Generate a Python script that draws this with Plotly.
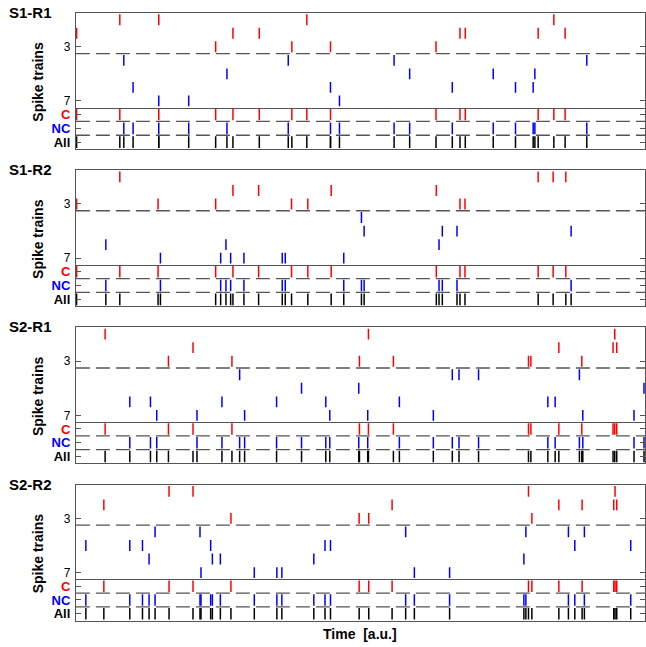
import plotly.graph_objects as go

W, H = 646, 647
T_MAX = 570  # time axis extent [a.u.]

panel_titles = ["S1-R1", "S1-R2", "S2-R1", "S2-R2"]

# Spike times per train (trains 1-3 correlated "C", trains 4-7 non-correlated "NC")
s1r1_trains = [
    [44, 83, 231.3, 478.7],
    [0.7, 157.3, 183.7, 384.7, 390, 463, 490],
    [140, 216.3, 255, 360.7],
    [48, 212.7, 318.7, 511.7],
    [151.3, 334.3, 418, 459.7],
    [57.3, 255, 377, 440.3, 458],
    [83, 113, 264],
]
s1r2_trains = [
    [44, 463, 478, 490.7],
    [157.3, 183, 255.7, 361],
    [0.7, 82.3, 140, 216, 232.3, 384.7, 389.7],
    [286],
    [288.7, 367, 381.7, 496],
    [30, 150.3, 363.7],
    [84.7, 145, 155, 168.3, 206.7, 209.7, 268.3],
]
s2r1_trains = [
    [29.3, 293, 539.7],
    [117.3, 483.7, 538, 541.7],
    [92.7, 156.3, 284, 318, 453.3, 455.7, 506.7],
    [164, 377, 383.7, 403.3, 504.3],
    [226, 283.3, 569],
    [54, 74.7, 146.3, 201, 250.3, 324, 472.7, 480],
    [81, 121.3, 169, 254.3, 292.3, 358, 507.7, 559],
]
s2r2_trains = [
    [93.3, 117.3, 453.3, 540],
    [28, 316.7, 483.7, 507, 538.7, 541.7],
    [155.3, 283.7, 293.3, 456.7],
    [79.3, 124.3, 330.3, 450.7, 493.3, 509.3],
    [10, 54, 66.7, 135, 249.5, 255, 499.7, 555.7],
    [73.3, 136.7, 144.7, 238.3, 448.7],
    [125.3, 178.7, 201.3, 206.3, 339, 374.3],
]
panels = [s1r1_trains, s1r2_trains, s2r1_trains, s2r2_trains]

n_corr = 3
upper_ticks = [3, 7]
lower_labels = ["C", "NC", "All"]
RED, BLUE, BLACK = "#ff0000", "#0000ff", "#000000"
AX = "#555555"
FONT = "Liberation Sans, Arial, Helvetica, sans-serif"


def yp(px):
    return 1 - px / H


def spikes(times, row, half=0.4):
    xs, ys = [], []
    for t in times:
        xs += [t, t, None]
        ys += [row - half, row + half, None]
    return xs, ys


fig = go.Figure()
layout = {}
shapes = []
annotations = []
x_dom = [76 / W, 1.0]

for k, trains in enumerate(panels):
    top = 12 + 157.7 * k
    mid = top + 95
    bot = top + 136.5
    iu, il = 2 * k + 1, 2 * k + 2
    xu = "x" if iu == 1 else f"x{iu}"
    yu = "y" if iu == 1 else f"y{iu}"
    xl, yl = f"x{il}", f"y{il}"
    kxu = "xaxis" if iu == 1 else f"xaxis{iu}"
    kyu = "yaxis" if iu == 1 else f"yaxis{iu}"
    kxl, kyl = f"xaxis{il}", f"yaxis{il}"

    # individual trains
    for r, times in enumerate(trains, start=1):
        xs, ys = spikes(times, r)
        fig.add_trace(go.Scatter(x=xs, y=ys, mode="lines", xaxis=xu, yaxis=yu,
                                 line=dict(color=RED if r <= n_corr else BLUE, width=1.5),
                                 hoverinfo="skip", showlegend=False))
    # pooled trains
    c_all = sorted(t for tr in trains[:n_corr] for t in tr)
    nc_all = sorted(t for tr in trains[n_corr:] for t in tr)
    all_all = sorted(c_all + nc_all)
    for r, (times, col) in enumerate([(c_all, RED), (nc_all, BLUE), (all_all, BLACK)], start=1):
        xs, ys = spikes(times, r, 0.42)
        fig.add_trace(go.Scatter(x=xs, y=ys, mode="lines", xaxis=xl, yaxis=yl,
                                 line=dict(color=col, width=1.5),
                                 hoverinfo="skip", showlegend=False))

    xcommon = dict(domain=x_dom, range=[0, T_MAX], showline=True,
                   linecolor=AX, linewidth=1, showticklabels=False, ticks="",
                   showgrid=False, zeroline=False)
    layout[kxu] = dict(xcommon, anchor=yu, mirror=True)
    layout[kxl] = dict(xcommon, anchor=yl, mirror=False)
    ycommon = dict(showline=True, mirror="ticks", linecolor=AX, linewidth=1,
                   ticks="inside", ticklen=5, tickcolor=AX, showgrid=False,
                   zeroline=False, ticklabelstandoff=2)
    layout[kyu] = dict(ycommon, anchor=xu, domain=[yp(mid), yp(top)],
                       range=[7.5, 0.5], tickvals=upper_ticks,
                       ticktext=[str(v) for v in upper_ticks],
                       tickfont=dict(size=12, color="black", family=FONT))
    layout[kyl] = dict(ycommon, anchor=xl, domain=[yp(bot), yp(mid)],
                       range=[3.5, 0.5], tickvals=[1, 2, 3],
                       ticktext=[f"<b><span style='color:{c}'>{lab}</span></b>"
                                 for lab, c in zip(lower_labels, [RED, BLUE, BLACK])],
                       tickfont=dict(size=13, color="black", family=FONT))

    dash = dict(color=AX, width=1.3, dash="14px,6px")
    shapes.append(dict(type="line", xref=xu, yref=yu, x0=0, x1=T_MAX, y0=n_corr + 0.5,
                       y1=n_corr + 0.5, line=dash, layer="below"))
    for yv in (1.5, 2.5):
        shapes.append(dict(type="line", xref=xl, yref=yl, x0=0, x1=T_MAX, y0=yv, y1=yv,
                           line=dash, layer="below"))

    annotations.append(dict(text=f"<b>{panel_titles[k]}</b>", xref="paper", yref="paper",
                            x=7 / W, y=yp(top - 0.5), xanchor="left", yanchor="middle",
                            showarrow=False, font=dict(size=15, color="black", family=FONT)))
    annotations.append(dict(text="<b>Spike trains</b>", xref="paper", yref="paper",
                            x=38 / W, y=yp(top + 69), xanchor="center", yanchor="middle",
                            textangle=-90, showarrow=False,
                            font=dict(size=14, color="black", family=FONT)))

annotations.append(dict(text="<b>Time\u00a0\u00a0[a.u.]</b>", xref="paper", yref="paper",
                        x=361 / W, y=yp(635), xanchor="center", yanchor="middle",
                        showarrow=False, font=dict(size=14, color="black", family=FONT)))

fig.update_layout(width=W, height=H, margin=dict(l=0, r=0, t=0, b=0),
                  paper_bgcolor="white", plot_bgcolor="white",
                  shapes=shapes, annotations=annotations,
                  font=dict(family=FONT), **layout)

fig.write_html("out.html")
